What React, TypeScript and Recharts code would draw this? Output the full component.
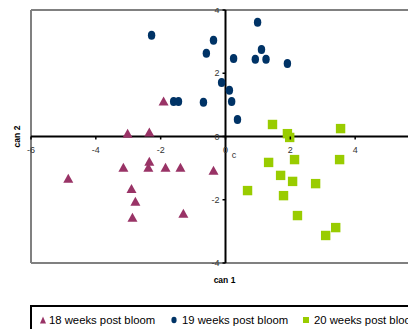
import React from 'react';
import { ScatterChart, Scatter, XAxis, YAxis, ReferenceLine, Legend, Customized } from 'recharts';

// [can 1, can 2]
const week18: [number, number][] = [
  [-1.91, 1.11], [-3.02, 0.09], [-2.35, 0.13], [-4.85, -1.33], [-3.15, -0.98],
  [-2.35, -0.79], [-2.38, -0.98], [-1.85, -0.98], [-1.39, -0.98], [-2.9, -1.65],
  [-2.78, -2.06], [-2.87, -2.56], [-1.3, -2.44], [-0.37, -1.08],
];
const week19: [number, number][] = [
  [-2.28, 3.2], [-0.59, 2.63], [-0.37, 3.04], [-1.6, 1.11], [-1.45, 1.11],
  [-0.68, 1.08], [0.99, 3.61], [0.25, 2.47], [1.11, 2.75], [0.92, 2.44],
  [1.25, 2.44], [1.91, 2.31], [-0.12, 1.71], [0.12, 1.46], [0.19, 1.11], [0.37, 0.54],
];
const week20: [number, number][] = [
  [1.45, 0.38], [1.91, 0.09], [1.98, -0.03], [3.55, 0.25], [1.33, -0.82],
  [2.13, -0.73], [3.52, -0.73], [1.7, -1.23], [2.07, -1.42], [2.78, -1.49],
  [0.68, -1.71], [1.79, -1.87], [2.22, -2.5], [3.4, -2.88], [3.09, -3.13],
];
const seriesNames = ['18 weeks post bloom', '19 weeks post bloom', '20 weeks post bloom'];
const xTicks = [-6, -4, -2, 0, 2, 4];
const yTicks = [-4, -2, 0, 2, 4];
const xTitle = 'can 1';
const yTitle = 'can 2';

const X_MIN = -6, X_MAX = 6, Y_MIN = -4, Y_MAX = 4;
const CHART_W = 440, CHART_H = 340;
const X_AXIS_H = 30, Y_AXIS_W = 1;
const MARGIN = { top: 2, left: 22, right: 28, bottom: 55 };
const PLOT_LEFT = MARGIN.left + Y_AXIS_W;
const PLOT_W = CHART_W - PLOT_LEFT - MARGIN.right;
const PLOT_H = CHART_H - MARGIN.top - MARGIN.bottom - X_AXIS_H;
const ZERO_Y = MARGIN.top + (PLOT_H * (Y_MAX - 0)) / (Y_MAX - Y_MIN);
const ZERO_X = PLOT_LEFT + (PLOT_W * (0 - X_MIN)) / (X_MAX - X_MIN);

const C18 = '#993366';
const C19 = '#003366';
const C20 = '#99CC00';
const FONT = "Arial, 'Liberation Sans', sans-serif";

const toObj = (arr: [number, number][]) => arr.map(([x, y]) => ({ x, y }));

const Tri = (p: any) => {
  const { cx, cy } = p;
  if (cx == null || cy == null) return null;
  return <polygon points={`${cx},${cy - 4.8} ${cx - 5},${cy + 4.2} ${cx + 5},${cy + 4.2}`} fill={C18} />;
};
const Ell = (p: any) => {
  const { cx, cy } = p;
  if (cx == null || cy == null) return null;
  return <ellipse cx={cx} cy={cy} rx={3.7} ry={4.5} fill={C19} />;
};
const Sq = (p: any) => {
  const { cx, cy } = p;
  if (cx == null || cy == null) return null;
  return <rect x={cx - 4.7} y={cy - 4.7} width={9.4} height={9.4} fill={C20} />;
};

const XTick = (p: any) => {
  const { x, payload } = p;
  return (
    <g>
      <line x1={x} x2={x} y1={ZERO_Y} y2={ZERO_Y + 3} stroke="#000" strokeWidth={1.5} />
      <text x={x} y={ZERO_Y + 16.5} textAnchor="middle" fontSize={9} fontFamily={FONT} fill="#333">
        {payload.value}
      </text>
      {payload.value === 0 ? (
        <text x={x + 8.5} y={ZERO_Y + 21} textAnchor="middle" fontSize={9} fontFamily={FONT} fill="#333">
          c
        </text>
      ) : null}
    </g>
  );
};

const YTick = (p: any) => {
  const { y, payload } = p;
  return (
    <g>
      <line x1={ZERO_X - 3} x2={ZERO_X} y1={y} y2={y} stroke="#000" strokeWidth={1.5} />
      <text x={ZERO_X - 6} y={y + 3.2} textAnchor="end" fontSize={9} fontFamily={FONT} fill="#333">
        {payload.value}
      </text>
    </g>
  );
};

const Titles = () => (
  <g fontFamily={FONT} fontWeight="bold" fontSize={8.5} fill="#000">
    <text x={ZERO_X - 1} y={MARGIN.top + PLOT_H + 20} textAnchor="middle">{xTitle}</text>
    <text x={9} y={ZERO_Y + 3} textAnchor="middle" transform={`rotate(-90, 9, ${ZERO_Y})`}>
      {yTitle}
    </text>
  </g>
);

const legendIcon = (i: number) => {
  if (i === 0) return <svg width={8} height={8}><polygon points="4,0.5 1,7.5 7,7.5" fill={C18} /></svg>;
  if (i === 1) return <svg width={8} height={8}><ellipse cx={4} cy={4} rx={2.6} ry={3.2} fill={C19} /></svg>;
  return <svg width={8} height={8}><rect x={1} y={1} width={6} height={6} fill={C20} /></svg>;
};

const LegendBox = () => {
  const lefts = [7, 138, 270];
  const gaps = [2, 4, 4];
  return (
    <div
      style={{
        position: 'relative',
        boxSizing: 'border-box',
        border: '2px solid #000',
        height: 30,
        width: 420,
        fontFamily: FONT,
        fontSize: 11.3,
        color: '#000',
        background: '#fff',
      }}
    >
      {seriesNames.map((n, i) => (
        <span
          key={n}
          style={{ position: 'absolute', left: lefts[i], top: 0, height: 25, display: 'flex', alignItems: 'center', whiteSpace: 'nowrap' }}
        >
          <span style={{ display: 'inline-block', width: 8, height: 8, lineHeight: 0, marginTop: 1, marginRight: gaps[i] }}>{legendIcon(i)}</span>
          <span>{n}</span>
        </span>
      ))}
    </div>
  );
};

export default function App() {
  return (
    <div style={{ width: 408, height: 321, overflow: 'hidden', position: 'relative' }}>
      <ScatterChart width={CHART_W} height={CHART_H} margin={MARGIN}>
        <XAxis
          type="number"
          dataKey="x"
          domain={[X_MIN, X_MAX]}
          ticks={xTicks}
          interval={0}
          height={X_AXIS_H}
          axisLine={false}
          tickLine={false}
          tick={<XTick />}
        />
        <YAxis
          type="number"
          dataKey="y"
          domain={[Y_MIN, Y_MAX]}
          ticks={yTicks}
          interval={0}
          width={Y_AXIS_W}
          axisLine={false}
          tickLine={false}
          tick={<YTick />}
        />
        <ReferenceLine x={X_MIN} stroke="#808080" strokeWidth={2} />
        <ReferenceLine x={X_MAX} stroke="#808080" strokeWidth={2} />
        <ReferenceLine y={Y_MIN} stroke="#808080" strokeWidth={2} />
        <ReferenceLine y={Y_MAX} stroke="#808080" strokeWidth={2} />
        <ReferenceLine x={0} stroke="#000" strokeWidth={2} />
        <ReferenceLine y={0} stroke="#000" strokeWidth={2} />
        <Scatter name={seriesNames[0]} data={toObj(week18)} fill={C18} shape={Tri} isAnimationActive={false} />
        <Scatter name={seriesNames[1]} data={toObj(week19)} fill={C19} shape={Ell} isAnimationActive={false} />
        <Scatter name={seriesNames[2]} data={toObj(week20)} fill={C20} shape={Sq} isAnimationActive={false} />
        <Legend
          layout="horizontal"
          verticalAlign="middle"
          align="center"
          content={<LegendBox />}
          wrapperStyle={{ left: 22, top: 297, width: 420 }}
        />
        <Customized component={Titles} />
      </ScatterChart>
    </div>
  );
}
